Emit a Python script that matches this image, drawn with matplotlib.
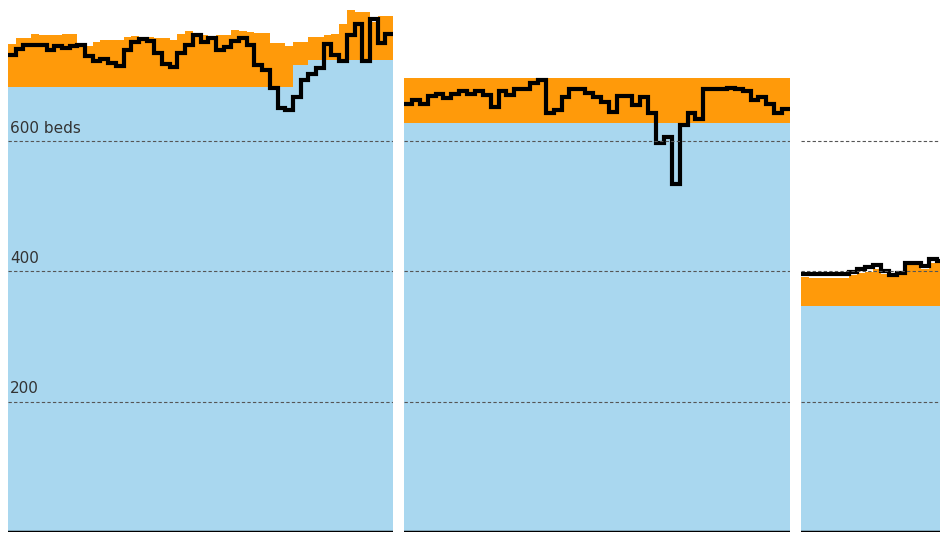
import numpy as np
import matplotlib
matplotlib.use("Agg")
import matplotlib.pyplot as plt

# Panel 1
occ1 = [731,741,747,747,747,739,745,742,745,747,730,723,725,720,715,740,751,756,753,735,
        718,713,735,747,763,751,757,740,744,753,757,747,716,708,681,651,647,667,693,702,
        711,749,732,723,762,779,723,787,750,764]
cap1 = [749,757,758,764,762,763,762,764,764,746,745,751,754,754,754,759,761,759,759,757,
        758,754,764,769,763,763,759,762,763,770,769,767,765,765,750,750,745,752,752,760,
        760,762,764,779,800,797,797,782,791,791]
base1 = [682]*37 + [717]*2 + [724]*11
# Panel 2
occ2 = [657,662,657,669,672,666,672,676,672,676,671,652,677,670,679,680,689,693,643,648,
        667,680,679,673,667,660,644,668,668,655,667,643,597,606,534,624,643,633,680,680,
        680,681,680,676,662,667,657,643,649]
cap2 = [696]*49
base2 = [627]*49
# Panel 3
occ3 = [395,396,395,396,396,396,399,403,406,409,400,394,398,412,412,408,419,415]
cap3 = [391,390,390,390,390,390,394,397,399,403,396,391,395,409,409,404,413,412]
base3 = [346]*18

gridvals = [200, 400, 600]
gridlabels = ["200", "400", "600 beds"]

BLUE = "#a9d7ef"
ORANGE = "#ff9a0a"

fig = plt.figure(figsize=(9.4, 5.4), dpi=100)
W, H = 940, 540
panels = [(8, 393, occ1, cap1, base1, None), (404, 790, occ2, cap2, base2, None),
          (801, 940, occ3, cap3, base3, 139/8)]
for i, (x0, x1, occ, cap, base, xmax) in enumerate(panels):
    ax = fig.add_axes([x0/W, (H-532)/H, (x1-x0)/W, 532/H])
    n = len(occ)
    x = np.arange(n+1)
    c = np.array(cap + [cap[-1]])
    b = np.array(base + [base[-1]])
    o = np.array(occ + [occ[-1]])
    ax.fill_between(x, 0, b, step='post', color=BLUE, lw=0)
    ax.fill_between(x, b, c, step='post', color=ORANGE, lw=0)
    ax.step(x, o, where='post', color='black', lw=3, solid_joinstyle='miter')
    for g in gridvals:
        ax.axhline(g, color='#555555', lw=0.8, ls=(0, (3, 2)), zorder=3)
    ax.axhline(0, color='black', lw=2.5, zorder=4)
    ax.set_xlim(0, xmax if xmax else n)
    ax.set_ylim(0, 816)
    ax.axis('off')
    if i == 0:
        for g, lab in zip(gridvals, gridlabels):
            ax.text(0.3, g + 8, lab, fontsize=11, color='#333333', va='bottom', ha='left', zorder=5)

fig.savefig("out.png", dpi=100)
